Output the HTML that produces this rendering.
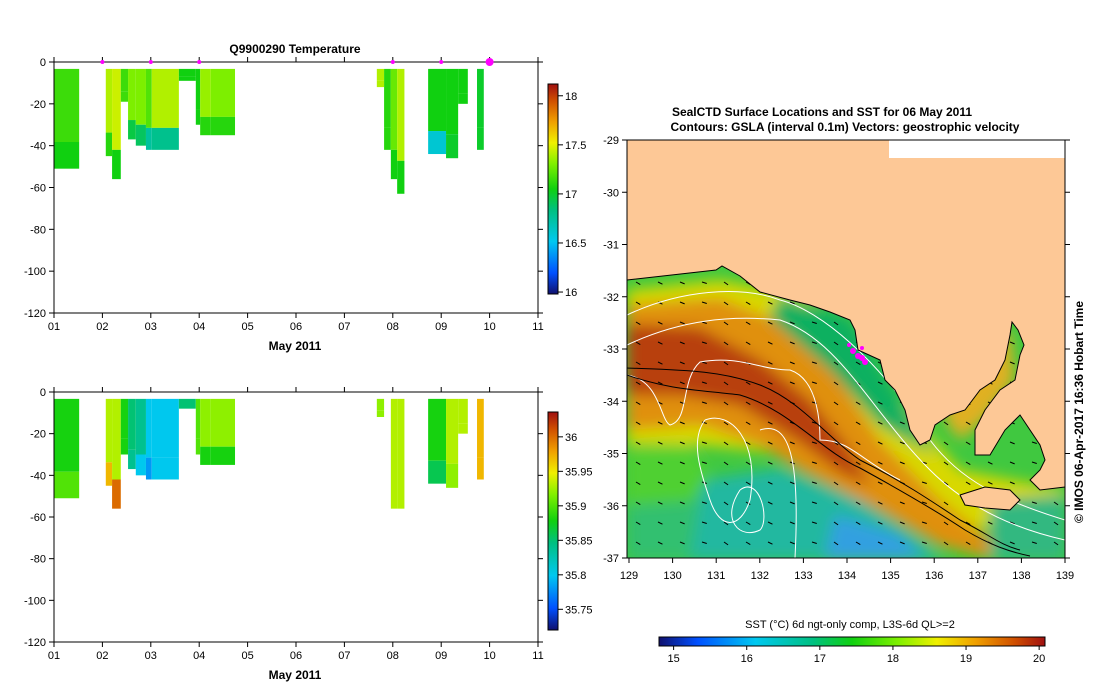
<!DOCTYPE html>
<html><head><meta charset="utf-8"><style>
body{margin:0;background:#fff;}
svg{display:block;font-family:"Liberation Sans",sans-serif;}
.t{font-size:11px;fill:#000;}
.b{font-size:12px;font-weight:bold;fill:#000;}
</style></head><body>
<svg id="s" width="1099" height="700" viewBox="0 0 1099 700">
<defs>
<filter id="bl" x="-10%" y="-10%" width="120%" height="120%"><feGaussianBlur stdDeviation="7"/></filter>
<clipPath id="seaClip"><path id="seaPath" d="M627,280 L716,270 L722,266 L740,276 L760,292 L790,300 L810,305 L830,312 L850,320 L855,330 L858,350 L880,360 L885,380 L895,390 L905,410 L910,430 L920,445 L930,440 L935,425 L950,415 L965,410 L980,390 L995,380 L1005,360 L1010,335 L1012,322 L1018,330 L1024,345 L1020,355 L1015,380 L1000,390 L985,410 L975,430 L975,455 L990,455 L1005,430 L1020,415 L1040,445 L1045,460 L1040,470 L1030,480 L1040,490 L1065,487 L1065,558 L627,558 Z"/></clipPath>
<linearGradient id="sstg" x1="0" x2="1" y1="0" y2="0">
<stop offset="0" stop-color="#10106e"/><stop offset="0.1" stop-color="#0050ff"/><stop offset="0.25" stop-color="#00c8f0"/><stop offset="0.4" stop-color="#00c080"/><stop offset="0.5" stop-color="#10d010"/><stop offset="0.62" stop-color="#80f000"/><stop offset="0.72" stop-color="#f0f000"/><stop offset="0.82" stop-color="#f0a000"/><stop offset="0.92" stop-color="#d05000"/><stop offset="1" stop-color="#a01010"/>
</linearGradient>
<linearGradient id="vg" x1="0" x2="0" y1="1" y2="0">
<stop offset="0" stop-color="#10106e"/><stop offset="0.1" stop-color="#0050ff"/><stop offset="0.25" stop-color="#00c8f0"/><stop offset="0.4" stop-color="#00c080"/><stop offset="0.5" stop-color="#10d010"/><stop offset="0.62" stop-color="#80f000"/><stop offset="0.72" stop-color="#f0f000"/><stop offset="0.82" stop-color="#f0a000"/><stop offset="0.92" stop-color="#d05000"/><stop offset="1" stop-color="#a01010"/>
</linearGradient>
</defs>
<g id="charts"></g>

<g>
<text class="b" x="822" y="116" text-anchor="middle">SealCTD Surface Locations and SST for 06 May 2011</text>
<text class="b" x="845" y="131" text-anchor="middle">Contours: GSLA (interval 0.1m) Vectors: geostrophic velocity</text>
<rect x="627" y="140" width="438" height="418" fill="#fdc896"/>
<rect x="889" y="140" width="176" height="18" fill="#fff"/>
<g clip-path="url(#seaClip)">
<rect x="627" y="260" width="440" height="300" fill="#40c840"/>
<g filter="url(#bl)">
<path d="M627,290 L720,280 L800,295 L850,330 L900,400 L960,470 L1065,490 L1065,520 L960,530 L880,490 L800,455 L700,445 L627,445Z" fill="#d8d800"/>
<path d="M627,305 L720,298 L800,330 L840,380 L880,440 L940,500 L990,540 L990,558 L940,545 L870,505 L800,470 L760,445 L700,425 L627,430Z" fill="#e09010"/>
<path d="M627,325 L700,328 L760,360 L810,400 L850,450 L870,485 L840,472 L800,442 L740,405 L680,395 L627,395Z" fill="#b84010"/>
<path d="M780,296 L850,318 L900,400 L935,455 L880,425 L830,370 L770,318Z" fill="#10b060"/>
<path d="M700,480 L780,468 L860,500 L920,540 L945,560 L690,560Z" fill="#20b8a0"/>
<path d="M835,515 L900,535 L925,560 L825,560Z" fill="#30a0e0"/>
<path d="M627,450 L690,445 L710,475 L690,505 L627,505Z" fill="#50d030"/>
<path d="M627,505 L700,500 L690,560 L627,560Z" fill="#30c070"/>
<path d="M945,360 L1010,330 L1015,380 L985,420 L960,440 L945,420Z" fill="#e0b020"/>
<path d="M990,500 L1065,495 L1065,560 L990,560Z" fill="#30b880"/>
</g>
<g id="vectors" stroke="#000" stroke-width="1"></g>
<g fill="none" stroke="#fff" stroke-width="1">
<path d="M627,315 C680,290 740,285 780,300 C820,310 880,360 930,440 C960,480 1000,500 1065,520"/>
<path d="M627,345 C680,320 730,315 780,320 C840,340 870,410 930,470 C970,510 1020,530 1065,540"/>
<path d="M627,375 C660,380 660,420 670,425 C690,420 680,380 700,362 C740,355 760,370 790,370 C820,380 820,430 820,440 C850,440 860,460 900,480"/>
<path d="M705,420 C730,410 760,440 750,500 C740,530 720,530 710,500 C700,470 690,440 705,420"/>
<path d="M740,490 C760,475 770,520 760,530 C740,540 720,520 740,490"/>
<path d="M760,430 C790,420 800,460 795,558"/>
</g>
<g fill="none" stroke="#000" stroke-width="1">
<path d="M627,368 C680,370 720,370 760,385 C800,400 830,440 860,460 C900,480 930,500 960,520 C990,535 1000,545 1020,550"/>
<path d="M627,375 C670,390 700,390 740,395 C790,410 820,450 860,468 C900,490 935,510 965,530 C990,545 1010,552 1030,556"/>
</g>
</g>
<path d="M627,280 L716,270 L722,266 L740,276 L760,292 L790,300 L810,305 L830,312 L850,320 L855,330 L858,350 L880,360 L885,380 L895,390 L905,410 L910,430 L920,445 L930,440 L935,425 L950,415 L965,410 L980,390 L995,380 L1005,360 L1010,335 L1012,322 L1018,330 L1024,345 L1020,355 L1015,380 L1000,390 L985,410 L975,430 L975,455 L990,455 L1005,430 L1020,415 L1040,445 L1045,460 L1040,470 L1030,480 L1040,490 L1065,487" fill="none" stroke="#000" stroke-width="1"/>
<path d="M960,495 L985,487 L1010,490 L1020,500 L1010,510 L985,508 L965,505Z" fill="#fdc896" stroke="#000" stroke-width="1"/>
<g fill="#ff00ff">
<circle cx="853" cy="351" r="3"/><circle cx="858" cy="356" r="3"/><circle cx="862" cy="358" r="3"/><circle cx="865" cy="362" r="3"/><circle cx="849" cy="345" r="2"/><circle cx="862" cy="348" r="2"/>
</g>
<rect x="627" y="140" width="438" height="418" fill="none" stroke="#000" stroke-width="1"/>
<g id="mapAxes"></g>
<text class="b" transform="translate(1083,412) rotate(-90)" text-anchor="middle">© IMOS 06-Apr-2017 16:36 Hobart Time</text>
<text class="t" x="850" y="628" text-anchor="middle">SST (°C) 6d ngt-only comp, L3S-6d QL&gt;=2</text>
<rect x="659" y="637" width="386" height="9" fill="url(#sstg)" stroke="#000"/>
<g id="sstTicks"></g>
</g>
</svg>
<script>
const colStart=[1.00,2.07,2.20,2.38,2.53,2.69,2.90,3.02,3.58,3.93,4.02,4.24,7.67,7.82,7.96,8.09,8.73,9.10,9.35,9.74];
const colEnd  =[1.52,2.20,2.38,2.53,2.69,2.90,3.02,3.58,3.93,4.02,4.24,4.74,7.82,7.96,8.09,8.24,9.10,9.35,9.55,9.88];
const tDepth  =[51,45,56,19,37,40,42,42,9,30,35,35,12,42,56,63,44,46,20,42];
const tTop    =[17.15,17.4,17.45,17.15,17.3,17.3,17.2,17.4,17.05,17.05,17.35,17.3,17.4,17.1,17.25,17.4,17.05,17.05,17.05,17.0];
const tBot    =[17.05,17.1,17.05,17.15,16.95,16.9,16.75,16.8,17.05,17.05,17.1,17.1,17.4,17.1,17.05,17.05,16.6,17.0,17.05,17.0];
const sDepth  =[51,45,56,30,37,40,42,42,8,30,35,35,12,0,56,56,44,46,20,42];
const sTop    =[35.88,35.93,35.93,35.88,35.85,35.84,35.8,35.8,35.85,35.9,35.92,35.92,35.92,35.92,35.93,35.93,35.88,35.93,35.93,35.97];
const sBot    =[35.9,35.97,36.0,35.88,35.84,35.8,35.78,35.8,35.85,35.9,35.88,35.88,35.92,35.92,35.93,35.93,35.86,35.92,35.93,35.97];
const profileDays=[2,3,4,8,9,10];
const xTickLabels=["01","02","03","04","05","06","07","08","09","10","11"];
const yTicks=[0,-20,-40,-60,-80,-100,-120];
const tBarTicks=[18,17.5,17,16.5,16];
const sBarTicks=[36,35.95,35.9,35.85,35.8,35.75];
const sstTicks=[15,16,17,18,19,20];
const latTicks=[-29,-30,-31,-32,-33,-34,-35,-36,-37];
const lonTicks=[129,130,131,132,133,134,135,136,137,138,139];

const NS="http://www.w3.org/2000/svg";
function mk(tag,attrs,parent){const e=document.createElementNS(NS,tag);for(const k in attrs)e.setAttribute(k,attrs[k]);parent.appendChild(e);return e;}
const stops=[[0,[16,16,110]],[0.1,[0,80,255]],[0.25,[0,200,240]],[0.4,[0,192,128]],[0.5,[16,208,16]],[0.62,[128,240,0]],[0.72,[240,240,0]],[0.82,[240,160,0]],[0.92,[208,80,0]],[1,[160,16,16]]];
function cmap(f){f=Math.max(0,Math.min(1,f));for(let i=1;i<stops.length;i++){if(f<=stops[i][0]){const a=stops[i-1],b=stops[i];const t=(f-a[0])/(b[0]-a[0]);const c=a[1].map((v,j)=>Math.round(v+(b[1][j]-v)*t));return `rgb(${c})`;}}return "rgb(160,16,16)";}

const charts=document.getElementById('charts');
function drawChart(cfg){
  const g=mk('g',{},charts);
  
  
  const x0=54,x1=538,y0=cfg.y0,y1=cfg.y1;
  const xs=d=>x0+(d-1)*(x1-x0)/10;
  const ys=v=>y0+(-v)*(y1-y0)/120;
  const vf=v=>(v-cfg.vmin)/(cfg.vmax-cfg.vmin);
  for(let i=0;i<colStart.length;i++){
    const dep=cfg.depth[i]; if(dep<=0) continue;
    const split=Math.min(dep,Math.max(3,dep*0.75));
    const r1=mk('rect',{x:xs(colStart[i]),y:ys(-3.3),width:xs(colEnd[i])-xs(colStart[i]),height:ys(-split)-ys(-3.3),fill:cmap(vf(cfg.top[i]))},g);
    
    
    const r2=mk('rect',{x:xs(colStart[i]),y:ys(-split),width:xs(colEnd[i])-xs(colStart[i]),height:ys(-dep)-ys(-split),fill:cmap(vf(cfg.bot[i]))},g);
    
    
  }
  const fr=mk('rect',{x:x0,y:y0,width:x1-x0,height:y1-y0,fill:'none',stroke:'#000'},g);
  
  
  xTickLabels.forEach((l,i)=>{const x=xs(i+1);mk('line',{x1:x,x2:x,y1:y1,y2:y1+5,stroke:'#000'},g);mk('line',{x1:x,x2:x,y1:y0,y2:y0-5,stroke:'#000'},g);
    const t=mk('text',{x:x,y:y1+17,class:'t','text-anchor':'middle'},g);t.textContent=l;
    
    });
  yTicks.forEach(v=>{const y=ys(v);mk('line',{x1:x0-5,x2:x0,y1:y,y2:y,stroke:'#000'},g);mk('line',{x1:x1,x2:x1+5,y1:y,y2:y,stroke:'#000'},g);
    const t=mk('text',{x:x0-8,y:y+4,class:'t','text-anchor':'end'},g);t.textContent=v;
    
    });
  const xl=mk('text',{x:295,y:y1+37,class:'b','text-anchor':'middle'},g);xl.textContent='May 2011';
  
  
  if(cfg.title){const tt=mk('text',{x:295,y:y0-9,class:'b','text-anchor':'middle'},g);tt.textContent=cfg.title;
    
    
    profileDays.forEach((d,i)=>{const c=mk('circle',{cx:xs(d),cy:y0,r:i==profileDays.length-1?4:2,fill:'#ff00ff'},g);
      
      });}
  const cb=mk('rect',{x:548,y:cfg.cbT,width:10,height:cfg.cbB-cfg.cbT,fill:'url(#vg)',stroke:'#000'},g);
  
  
  cfg.ticks.forEach(v=>{const y=cfg.cbB-vf(v)*(cfg.cbB-cfg.cbT);mk('line',{x1:558,x2:563,y1:y,y2:y,stroke:'#000'},g);
    const t=mk('text',{x:565,y:y+4,class:'t'},g);t.textContent=v;
    
    });
}
drawChart({name:'temperature-chart',title:'Q9900290  Temperature',y0:62,y1:313,vmin:15.98,vmax:18.12,depth:tDepth,top:tTop,bot:tBot,cbT:84,cbB:294,ticks:tBarTicks});
drawChart({name:'salinity-chart',title:null,y0:392,y1:642,vmin:35.72,vmax:36.036,depth:sDepth,top:sTop,bot:sBot,cbT:412,cbB:630,ticks:sBarTicks});

const ma=document.getElementById('mapAxes');
const lonX=v=>629+(v-129)*(1065-629)/10, latY=v=>140+(-29-v)*(558-140)/8;
latTicks.forEach(v=>{const y=latY(v);mk('line',{x1:622,x2:627,y1:y,y2:y,stroke:'#000'},ma);mk('line',{x1:1065,x2:1070,y1:y,y2:y,stroke:'#000'},ma);
  const t=mk('text',{x:619,y:y+4,class:'t','text-anchor':'end'},ma);t.textContent=v;
  
  });
lonTicks.forEach(v=>{const x=lonX(v);mk('line',{x1:x,x2:x,y1:558,y2:563,stroke:'#000'},ma);
  const t=mk('text',{x:x,y:579,class:'t','text-anchor':'middle'},ma);t.textContent=v;
  
  });
const st=document.getElementById('sstTicks');
sstTicks.forEach(v=>{const x=659+(v-14.8)*386/5.28;mk('line',{x1:x,x2:x,y1:646,y2:650,stroke:'#000'},st);
  const t=mk('text',{x:x,y:662,class:'t','text-anchor':'middle'},st);t.textContent=v;
  
  });
const vg=document.getElementById('vectors');


for(let y=282;y<558;y+=20){for(let x=636;x<1060;x+=22){const a=0.3+((x*7+y*3)%5)*0.08;mk('line',{x1:x,y1:y,x2:x+5*Math.cos(a),y2:y+5*Math.sin(a)},vg);}}
</script>
</body></html>
